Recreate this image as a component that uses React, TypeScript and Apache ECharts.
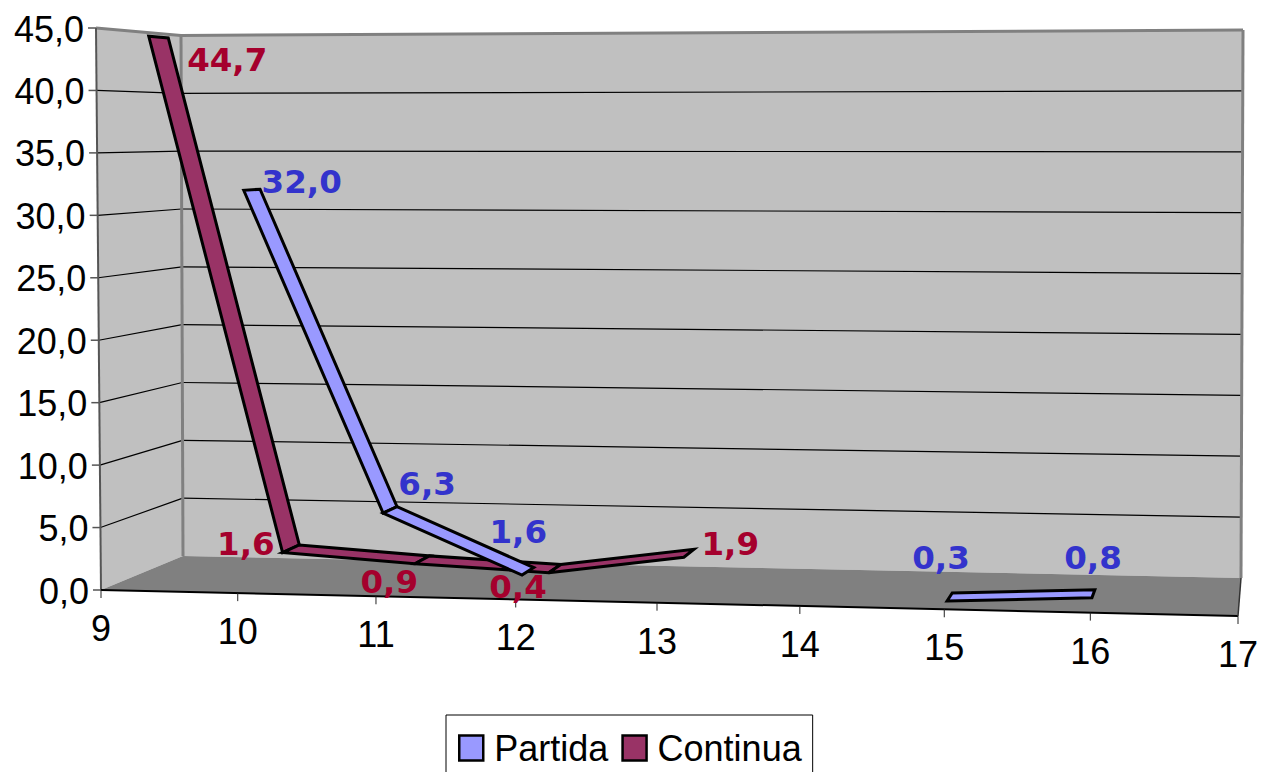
import React, { useEffect, useRef } from "react";
import * as echarts from "echarts";

const xTickLabels = ["9", "10", "11", "12", "13", "14", "15", "16", "17"];
const yTicks = [0, 5, 10, 15, 20, 25, 30, 35, 40, 45];
const xValues = [9, 10, 11, 12, 13, 14, 15, 16];
const partida = [null, 32.0, 6.3, 1.6, null, null, 0.3, 0.8];
const continua = [44.7, 1.6, 0.9, 0.4, 1.9, null, null, null];

// Label offsets from the projected point, in pixels
const partidaLabelDx = [0, 52, 39, -8, 0, 0, -8, 0];
const partidaLabelDy = [0, -8, -27, -40, 0, 0, -40, -37];
const continuaLabelDx = [70, -44, -32, -36, 42, 0, 0, 0];
const continuaLabelDy = [23, -5, 22, 18, -10, 0, 0, 0];

const GRID_LEFT = 101;
const GRID_RIGHT_X = 1238;
const GRID_TOP = 27;
const GRID_BOTTOM_Y = 590;

const PERSPECTIVE = 0.957;
const FRONT = { bl: [101, 590], br: [1238, 616], tl: [96, 28], tr: [1240, 23] };
const BACK = { bl: [183, 556], br: [1241, 578], tl: [181, 35.5], tr: [1243, 30] };

const mix = (a: number[], b: number[], t: number) => [a[0] + (b[0] - a[0]) * t, a[1] + (b[1] - a[1]) * t];

// Turn a pixel of the flat grid into a pixel of the tilted 3D box.
function project(p: number[], d: number) {
  const u0 = (p[0] - GRID_LEFT) / (GRID_RIGHT_X - GRID_LEFT);
  const v = (GRID_BOTTOM_Y - p[1]) / (GRID_BOTTOM_Y - GRID_TOP);
  const u = (PERSPECTIVE * u0) / (1 + (PERSPECTIVE - 1) * u0);
  const f = mix(mix(FRONT.bl, FRONT.br, u), mix(FRONT.tl, FRONT.tr, u), v);
  const b = mix(mix(BACK.bl, BACK.br, u), mix(BACK.tl, BACK.tr, u), v);
  return mix(f, b, d);
}

const comma = (v: number) => v.toFixed(1).replace(".", ",");

function segments(values: (number | null)[]) {
  const out: number[][] = [];
  values.forEach((v, i) => {
    const n = values[i + 1];
    if (v != null && n != null) out.push([xValues[i], v, xValues[i + 1], n]);
  });
  return out;
}

function labelRows(values: (number | null)[], dx: number[], dy: number[]) {
  const out: number[][] = [];
  values.forEach((v, i) => {
    if (v != null) out.push([xValues[i], v, dx[i], dy[i]]);
  });
  return out;
}

const ribbon = (fill: string, d0: number, d1: number) => (_: any, api: any) => {
  const a = api.coord([api.value(0), api.value(1)]);
  const b = api.coord([api.value(2), api.value(3)]);
  return {
    type: "polygon",
    shape: { points: [project(a, d0), project(b, d0), project(b, d1), project(a, d1)] },
    style: { fill, stroke: "#000", lineWidth: 3, lineJoin: "miter" },
    silent: true,
  };
};

const labelRender = (color: string, d: number) => (_: any, api: any) => {
  const p = project(api.coord([api.value(0), api.value(1)]), d);
  return {
    type: "text",
    silent: true,
    style: {
      text: comma(api.value(1)),
      x: p[0] + api.value(2),
      y: p[1] + api.value(3),
      fill: color,
      font: "bold 32.5px 'DejaVu Sans'",
      align: "center",
      verticalAlign: "middle",
    },
  };
};

const frameRender = (_: any, api: any) => {
  const lo = 9, hi = 17, top = 45;
  const P = (x: number, y: number, d: number) => project(api.coord([x, y]), d);
  const children: any[] = [];
  const line = (a: number[], b: number[], stroke: string, lineWidth: number) =>
    children.push({ type: "line", shape: { x1: a[0], y1: a[1], x2: b[0], y2: b[1] }, style: { stroke, lineWidth } });
  children.push({
    type: "polygon",
    shape: { points: [P(lo, 0, 1), P(hi, 0, 1), P(hi, top, 1), P(lo, top, 1)] },
    style: { fill: "#c0c0c0" },
  });
  children.push({
    type: "polygon",
    shape: { points: [P(lo, 0, 0), P(lo, 0, 1), P(lo, top, 1), P(lo, top, 0)] },
    style: { fill: "#c0c0c0" },
  });
  children.push({
    type: "polygon",
    shape: { points: [P(lo, 0, 0), P(lo, 0, 1), P(hi, 0, 1), P(hi, 0, 0)] },
    style: { fill: "#808080" },
  });
  yTicks.forEach((t) => {
    if (t === 0 || t === top) return;
    line(P(lo, t, 0), P(lo, t, 1), "#000", 1.2);
    line(P(lo, t, 1), P(hi, t, 1), "#000", 1.2);
  });
  line(P(lo, top, 0), P(lo, top, 1), "#808080", 3);
  line(P(lo, top, 1), P(hi, top, 1), "#808080", 3);
  line(P(hi, top, 1), P(hi, 0, 1), "#808080", 3);
  line(P(lo, 0, 1), P(lo, top, 1), "#808080", 3);
  line(P(lo, 0, 0), P(lo, top, 0), "#555", 2);
  yTicks.forEach((t) => {
    const a = P(lo, t, 0);
    line([a[0] - 8, a[1]], a, "#555", 1.5);
    children.push({
      type: "text",
      style: {
        text: comma(t),
        x: a[0] - 12,
        y: a[1] + 1,
        fill: "#000",
        font: "36px 'Liberation Sans'",
        align: "right",
        verticalAlign: "middle",
      },
    });
  });
  line(P(lo, 0, 0), P(hi, 0, 0), "#000", 2);
  line(P(hi, 0, 0), P(hi, 0, 1), "#333", 1.5);
  xTickLabels.forEach((s) => {
    const x = Number(s);
    const a = P(x, 0, 0);
    line(a, [a[0], a[1] + 8], "#222", 1);
    children.push({
      type: "text",
      style: {
        text: s,
        x: a[0],
        y: a[1] + 38.5,
        fill: "#000",
        font: "36px 'Liberation Sans'",
        align: "center",
        verticalAlign: "middle",
      },
    });
  });
  return { type: "group", silent: true, children };
};

export default function App() {
  const ref = useRef<HTMLDivElement>(null);
  useEffect(() => {
    const chart = echarts.init(ref.current!, undefined, { renderer: "svg" });
    const base = { type: "custom", coordinateSystem: "cartesian2d", clip: false, silent: true };
    chart.setOption({
      animation: false,
      backgroundColor: "#fff",
      grid: { left: GRID_LEFT, top: GRID_TOP, width: GRID_RIGHT_X - GRID_LEFT, height: GRID_BOTTOM_Y - GRID_TOP },
      xAxis: {
        type: "value",
        min: 9,
        max: 17,
        interval: 1,
        axisLine: { show: false },
        axisTick: { show: false },
        axisLabel: { show: false },
        splitLine: { show: false },
      },
      yAxis: {
        type: "value",
        min: 0,
        max: 45,
        interval: 5,
        axisLine: { show: false },
        axisTick: { show: false },
        splitLine: { show: false },
        axisLabel: { show: false },
      },
      legend: {
        left: 446,
        top: 715,
        data: ["Partida", "Continua"],
        orient: "horizontal",
        icon: "rect",
        itemWidth: 24,
        itemHeight: 25,
        itemGap: 13,
        padding: [15, 11, 19, 12],
        backgroundColor: "#fff",
        borderColor: "#000",
        borderWidth: 1,
        selectedMode: false,
        itemStyle: { borderColor: "#000", borderWidth: 2.5 },
        textStyle: { color: "#000", fontFamily: "Liberation Sans", fontSize: 36, padding: [0, 0, 0, 6] },
      },
      series: [
        { ...base, name: "frame", z: 1, data: [[9, 0]], renderItem: frameRender },
        {
          ...base,
          name: "Continua",
          z: 2,
          itemStyle: { color: "#993366" },
          data: segments(continua),
          renderItem: ribbon("#993366", 0.62, 0.85),
        },
        {
          ...base,
          name: "Partida",
          z: 3,
          itemStyle: { color: "#9999ff" },
          data: segments(partida),
          renderItem: ribbon("#9999ff", 0.12, 0.34),
        },
        {
          ...base,
          name: "continuaLabels",
          z: 4,
          data: labelRows(continua, continuaLabelDx, continuaLabelDy),
          renderItem: labelRender("#a5002d", 0.72),
        },
        {
          ...base,
          name: "partidaLabels",
          z: 4,
          data: labelRows(partida, partidaLabelDx, partidaLabelDy),
          renderItem: labelRender("#3333cc", 0.2),
        },
      ],
    });
    return () => chart.dispose();
  }, []);
  return <div ref={ref} style={{ position: "fixed", left: 0, top: 0, width: 1261, height: 772 }} />;
}
